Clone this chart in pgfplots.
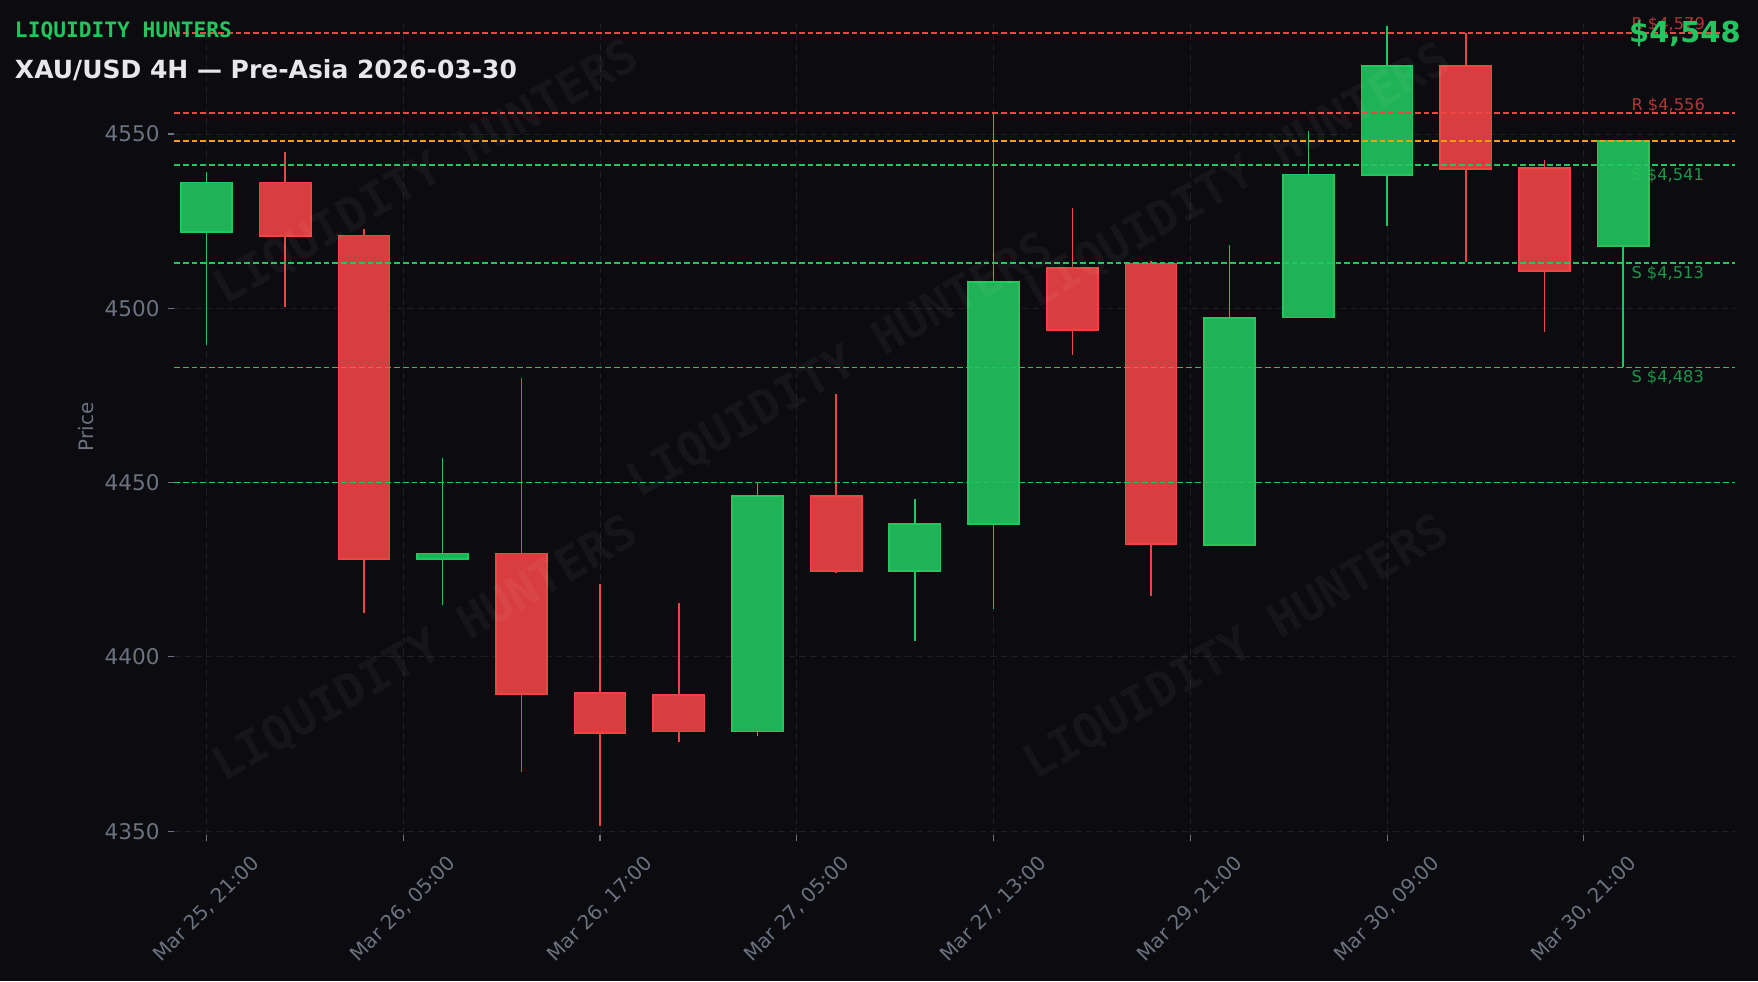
\documentclass[border=0pt]{standalone}
\usepackage{fontspec}
\setmainfont{DejaVu Sans}
\newfontfamily\wmfont{DejaVu Sans Mono}
\usepackage{pgfplots}
\pgfplotsset{compat=1.18}
\usepackage{pgfplotstable}

\definecolor{bg}{HTML}{0B0B10}
\definecolor{gridc}{HTML}{1E1E28}
\definecolor{tickc}{HTML}{6B7280}
\definecolor{upedge}{HTML}{22C55E}
\definecolor{upfill}{HTML}{20B256}
\definecolor{dnedge}{HTML}{EF4444}
\definecolor{dnfill}{HTML}{D83E3F}
\definecolor{amber}{HTML}{F59E0B}
\definecolor{titlec}{HTML}{E5E7EB}

% 4H candles, index 0 = Mar 25 21:00
\pgfplotstableread{
i  open   high   low    close
0  4521.9 4539.0 4489.4 4536.1
1  4536.1 4544.8 4500.3 4520.7
2  4520.9 4522.7 4412.7 4428.0
3  4428.0 4457.2 4415.0 4429.7
4  4429.7 4480.0 4367.1 4389.3
5  4389.6 4420.9 4351.5 4378.1
6  4389.0 4415.5 4375.6 4378.6
7  4378.6 4449.8 4377.3 4446.2
8  4446.2 4475.4 4424.2 4424.6
9  4424.6 4445.3 4404.6 4438.2
10 4438.1 4556.0 4413.7 4507.6
11 4511.5 4528.7 4486.7 4493.8
12 4512.9 4513.6 4417.6 4432.4
13 4432.1 4518.2 4432.0 4497.3
14 4497.4 4550.9 4497.3 4538.4
15 4538.2 4581.0 4523.7 4569.6
16 4569.6 4578.9 4513.3 4539.9
17 4540.2 4542.5 4493.3 4510.7
18 4517.9 4548.0 4483.2 4548.0
}\candles

\tikzset{
  up wick/.style={draw=upedge, line width=0.75pt},
  dn wick/.style={draw=dnedge, line width=0.75pt},
  up body/.style={draw=upedge, fill=upfill, line width=0.8pt},
  dn body/.style={draw=dnedge, fill=dnfill, line width=0.8pt},
  lvl/.style={line width=0.9pt, dash pattern=on 2.9pt off 1.5pt},
  lbl/.style={font=\fontsize{8.13}{10}\selectfont, text opacity=0.75, inner sep=0pt, anchor=base west},
  wm/.style={rotate=30, font=\wmfont\bfseries\fontsize{23.5}{28}\selectfont, text=white, text opacity=0.045},
}

\begin{document}
\begin{tikzpicture}
\path[use as bounding box, fill=bg] (-87pt,-73pt) rectangle (792pt,417.5pt);
\begin{axis}[
  at={(0,0)}, anchor=south west,
  scale only axis, width=780.5pt, height=408pt,
  xmin=-0.413, xmax=19.42, ymin=4348.9, ymax=4583.0,
  axis line style={draw=none},
  tick pos=left, tick align=outside,
  major tick length=3.2pt,
  tick style={draw=tickc, line width=0.6pt},
  xtick={0,2.5,...,17.5},
  xticklabels={{Mar 25, 21:00},{Mar 26, 05:00},{Mar 26, 17:00},{Mar 27, 05:00},
               {Mar 27, 13:00},{Mar 29, 21:00},{Mar 30, 09:00},{Mar 30, 21:00}},
  ytick={4350,4400,4450,4500,4550},
  /pgf/number format/assume math mode=true,
  /pgf/number format/1000 sep={},
  ticklabel style={text=tickc},
  xticklabel style={font=\fontsize{9.93}{12}\selectfont,
    yshift=-33.8pt, rotate=45, anchor=center, inner sep=0pt},
  yticklabel style={font=\fontsize{10.8}{13}\selectfont,
    anchor=east, inner sep=0pt, xshift=-3.8pt},
  ylabel={Price},
  ylabel style={at={(axis description cs:-0.0564,0.5)}, anchor=center,
    font=\fontsize{9.93}{12}\selectfont, text=tickc},
  grid=major,
  major grid style={draw=gridc, line width=0.5pt, dash pattern=on 3.3pt off 2pt},
  clip mode=individual,
]
\pgfplotsinvokeforeach{0,...,18}{
  \pgfplotstablegetelem{#1}{open}\of\candles \let\cOpen\pgfplotsretval
  \pgfplotstablegetelem{#1}{high}\of\candles \let\cHigh\pgfplotsretval
  \pgfplotstablegetelem{#1}{low}\of\candles \let\cLow\pgfplotsretval
  \pgfplotstablegetelem{#1}{close}\of\candles \let\cClose\pgfplotsretval
  \pgfmathsetmacro\cBot{min(\cOpen,\cClose)}
  \pgfmathsetmacro\cTop{max(\cOpen,\cClose)}
  \pgfmathsetmacro\xL{#1-0.325}
  \pgfmathsetmacro\xR{#1+0.325}
  \pgfmathsetmacro\isUp{\cClose>=\cOpen}
  \ifdim\isUp pt>0.5pt \def\cSide{up}\else\def\cSide{dn}\fi
  \edef\doCandle{%
    \noexpand\addplot[\cSide\space wick, mark=none] coordinates {(#1,\cLow) (#1,\cHigh)};
    \noexpand\addplot[\cSide\space body, mark=none] coordinates
      {(\xL,\cBot) (\xR,\cBot) (\xR,\cTop) (\xL,\cTop)} -- cycle;}
  \doCandle
}

% key levels
\addplot[dnedge, lvl] coordinates {(-0.413,4579) (19.42,4579)};
\addplot[dnedge, lvl] coordinates {(-0.413,4556) (19.42,4556)};
\addplot[amber, lvl]  coordinates {(-0.413,4548) (19.42,4548)};
\addplot[upedge, lvl] coordinates {(-0.413,4541) (19.42,4541)};
\addplot[upedge, lvl] coordinates {(-0.413,4513) (19.42,4513)};
\addplot[upedge, lvl] coordinates {(-0.413,4483) (19.42,4483)};
\addplot[upedge, lvl] coordinates {(-0.413,4450) (19.42,4450)};

\node[lbl, text=dnedge, yshift=1.5pt]  at (axis cs:18.1,4579) {R \$4,579};
\node[lbl, text=dnedge, yshift=1.5pt]  at (axis cs:18.1,4556) {R \$4,556};
\node[lbl, text=upedge, yshift=-7.6pt] at (axis cs:18.1,4541) {S \$4,541};
\node[lbl, text=upedge, yshift=-7.6pt] at (axis cs:18.1,4513) {S \$4,513};
\node[lbl, text=upedge, yshift=-7.6pt] at (axis cs:18.1,4483) {S \$4,483};

% watermark
\node[wm] at (rel axis cs:0.162,0.811) {LIQUIDITY HUNTERS};
\node[wm] at (rel axis cs:0.427,0.575) {LIQUIDITY HUNTERS};
\node[wm] at (rel axis cs:0.682,0.807) {LIQUIDITY HUNTERS};
\node[wm] at (rel axis cs:0.161,0.227) {LIQUIDITY HUNTERS};
\node[wm] at (rel axis cs:0.681,0.229) {LIQUIDITY HUNTERS};
\end{axis}

\node[anchor=base west, inner sep=0pt, text=upedge,
  font=\wmfont\bfseries\fontsize{10.6}{13}\selectfont] at (-79.7pt,398.5pt) {LIQUIDITY HUNTERS};
\node[anchor=base west, inner sep=0pt, text=titlec,
  font=\bfseries\fontsize{12.5}{15}\selectfont] at (-79.7pt,378.25pt) {XAU/USD 4H — Pre-Asia 2026-03-30};
\node[anchor=base east, inner sep=0pt, text=upedge,
  font=\bfseries\fontsize{14.44}{17}\selectfont] at (783.5pt,396.2pt) {\$4,548};
\end{tikzpicture}
\end{document}
